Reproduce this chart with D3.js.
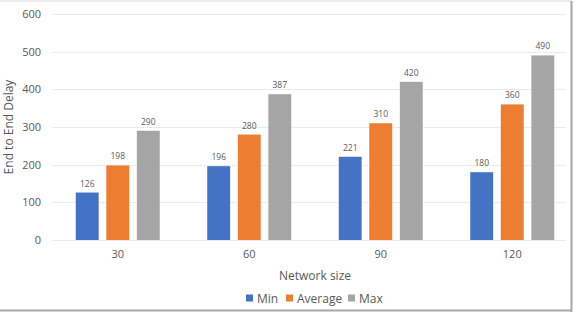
<!DOCTYPE html>
<html>
<head>
<meta charset="utf-8">
<script src="https://cdn.jsdelivr.net/npm/d3@7"></script>
<style>
  body { margin: 0; background: #fff; }
  text { font-family: "Open Sans", "Noto Sans", sans-serif; fill: #595959; }
</style>
</head>
<body>
<div id="wrapper"></div>
<script>
const sizes = ["30", "60", "90", "120"];
const seriesNames = ["Min", "Average", "Max"];
const minVals = [126, 196, 221, 180];
const avgVals = [198, 280, 310, 360];
const maxVals = [290, 387, 420, 490];
const yTicks = [0, 100, 200, 300, 400, 500, 600];
const colors = ["#4472C4", "#ED7D31", "#A5A5A5"];

const table = sizes.map((s, i) => ({ size: s, values: [minVals[i], avgVals[i], maxVals[i]] }));

const dimension = { width: 576, height: 312, margin: { top: 14, left: 52, bottom: 72, right: -2 } };
const plotBottom = dimension.height - dimension.margin.bottom; // 240

const svg = d3.select("#wrapper").append("svg")
    .attr("width", dimension.width)
    .attr("height", dimension.height);

// frame
svg.append("line").attr("x1", 0).attr("x2", 572).attr("y1", 1).attr("y2", 1)
    .attr("stroke", "#d9d9d9").attr("stroke-width", 1);
svg.append("line").attr("x1", 571.5).attr("x2", 571.5).attr("y1", 1).attr("y2", 312)
    .attr("stroke", "#a6a6a6").attr("stroke-width", 2);
svg.append("line").attr("x1", 0).attr("x2", 572).attr("y1", 310.5).attr("y2", 310.5)
    .attr("stroke", "#a6a6a6").attr("stroke-width", 2);

const yScaler = d3.scaleLinear().domain([0, 600]).range([plotBottom, dimension.margin.top]);
const xScaler = d3.scaleBand().domain(sizes).range([52, 578]);
const inner = d3.scaleBand().domain(d3.range(3)).range([-42, 42]).paddingInner(0.25);

// gridlines
svg.append("g").selectAll("line").data(yTicks).join("line")
    .attr("x1", 52).attr("x2", 566)
    .attr("y1", d => Math.round(yScaler(d)) + 0.5)
    .attr("y2", d => Math.round(yScaler(d)) + 0.5)
    .attr("stroke", "#ebebeb");

// y axis labels
const yAxis = d3.axisLeft(yScaler).tickValues(yTicks).tickSize(0).tickPadding(0);
svg.append("g").attr("transform", "translate(41,0)").call(yAxis)
    .call(g => g.select(".domain").remove())
    .selectAll("text").style("font-size", "11px").attr("fill", "#595959")
    .style("font-family", "'Open Sans', sans-serif");

// x axis labels
const xAxis = d3.axisBottom(xScaler).tickSize(0).tickPadding(0);
svg.append("g").attr("transform", `translate(0,${plotBottom + 10})`).call(xAxis)
    .call(g => g.select(".domain").remove())
    .selectAll("text").style("font-size", "11px").attr("fill", "#595959")
    .style("font-family", "'Open Sans', sans-serif");

// bars
const groups = svg.append("g").selectAll("g").data(table).join("g")
    .attr("transform", d => `translate(${xScaler(d.size) + xScaler.bandwidth() / 2},0)`);

groups.selectAll("rect").data(d => d.values).join("rect")
    .attr("x", (d, i) => inner(i))
    .attr("width", inner.bandwidth())
    .attr("y", d => yScaler(d))
    .attr("height", d => plotBottom - yScaler(d))
    .attr("fill", (d, i) => colors[i]);

groups.selectAll("text").data(d => d.values).join("text")
    .attr("x", (d, i) => inner(i) + inner.bandwidth() / 2)
    .attr("y", d => yScaler(d) - 6)
    .attr("text-anchor", "middle")
    .style("font-size", "8.5px")
    .text(d => d);

// axis titles
svg.append("text")
    .attr("transform", `translate(13,${(plotBottom + dimension.margin.top) / 2}) rotate(-90)`)
    .attr("text-anchor", "middle")
    .style("font-size", "12px")
    .text("End to End Delay");

svg.append("text")
    .attr("x", 315).attr("y", 280)
    .attr("text-anchor", "middle")
    .style("font-size", "12px")
    .text("Network size");

// legend
const legendX = [246, 286, 348];
const legend = svg.append("g").selectAll("g").data(seriesNames).join("g")
    .attr("transform", (d, i) => `translate(${legendX[i]},302)`);
legend.append("rect").attr("x", 0).attr("y", -7.5).attr("width", 7).attr("height", 7)
    .attr("fill", (d, i) => colors[i]);
legend.append("text").attr("x", 11).attr("y", 0.5)
    .style("font-size", "12px")
    .text(d => d);
</script>
</body>
</html>
